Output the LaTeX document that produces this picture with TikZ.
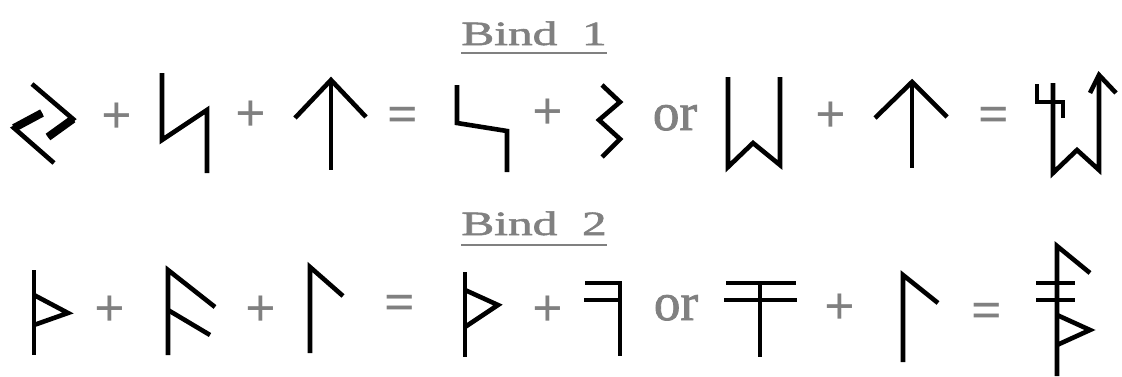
\documentclass[tikz,border=0pt]{standalone}
\usepackage{fontspec}
\setmainfont{Liberation Serif}
\newfontfamily\heavyserif[FakeBold=1.5]{Liberation Serif}
\usetikzlibrary{positioning}
\definecolor{opgray}{RGB}{128,128,128}

\begin{document}
\begin{tikzpicture}[
    x=1pt, y=-1pt,
    rune/.style={line width=4.6pt, line join=miter},
    heavy/.style={line width=8pt},
    op/.style={text=opgray, font=\fontsize{54}{60}\selectfont\bfseries, inner sep=0pt, anchor=base},
    word/.style={text=opgray, font=\fontsize{53}{60}\selectfont\heavyserif, inner sep=0pt, anchor=base},
    title/.style={text=opgray, font=\fontsize{34}{40}\selectfont\heavyserif, inner sep=0pt, anchor=base},
    uline/.style={draw=opgray, line width=2.6pt}
]
\useasboundingbox (0,0) rectangle (1122,376);

% --- Bind 1 ---
\node[title] (bind1) at (534,45) {\scalebox{1.45}[1]{Bind\ \ 1}};
\draw[uline] ([yshift=-8pt]bind1.base west) -- ([yshift=-8pt]bind1.base east);

% jera
\draw[rune] (32,84) -- (73,119) -- (48,137);
\draw[rune, heavy] (73,119) -- (48,137);
\draw[rune] (42,113) -- (14,128) -- (54,163);
\draw[rune, heavy] (42,113) -- (14,128);
\node[op] (plusA) at (117,133) {+};
% sowilo
\draw[rune] (162,73) -- (162,140) -- (207,110) -- (207,173);
\node[op] (plusB) at (251,131) {+};
% tiwaz
\draw[rune] (331,80) -- (331,170);
\draw[rune] (295,118) -- (331,80) -- (366,117);
\node[op] (eqA) at (403,132) {=};

% split parts
\draw[rune] (457,85) -- (457,123) -- (507,131) -- (507,172);
\node[op] (plusC) at (548,129) {+};
\draw[rune] (602,85) -- (620,102) -- (599,120) -- (620,139) -- (602,157);
\node[word] (orA) at (675,130) {or};
\draw[rune] (728,77) -- (728,167) -- (753,143) -- (780,165) -- (780,77);
\node[op] (plusD) at (831,132) {+};
\draw[rune] (912,82) -- (912,168);
\draw[rune] (875,118) -- (912,82) -- (947,117);
\node[op] (eqB) at (994,132) {=};

% bind rune 1
\draw[rune] (1037,84) -- (1037,102) -- (1063,102) -- (1063,118);
\draw[rune] (1053,83) -- (1053,173) -- (1077,150) -- (1099,170) -- (1099,75);
\draw[rune] (1090,93) -- (1099,75) -- (1116,93);

% --- Bind 2 ---
\node[title] (bind2) at (534,235) {\scalebox{1.45}[1]{Bind\ \ 2}};
\draw[uline] ([yshift=-10pt]bind2.base west) -- ([yshift=-10pt]bind2.base east);

% thurisaz
\draw[rune] (34,270) -- (34,355);
\draw[rune] (34,295) -- (68,313) -- (34,325);
\node[op] (plusE) at (110,326) {+};
% ansuz
\draw[rune] (215,307) -- (168,270) -- (168,355);
\draw[rune] (168,310) -- (210,335);
\node[op] (plusF) at (261,326) {+};
% laguz
\draw[rune] (343,296) -- (310,267) -- (310,353);
\node[op] (eqC) at (400,320) {=};

% split parts
\draw[rune] (465,272) -- (465,357);
\draw[rune] (465,290) -- (498,305) -- (465,327);
\node[op] (plusG) at (548,326) {+};
\draw[rune] (585,283) -- (620,283) -- (620,356);
\draw[rune] (584,300) -- (620,300);
\node[word] (orB) at (676,320) {or};
\draw[rune] (726,283) -- (796,283);
\draw[rune] (724,300) -- (797,300);
\draw[rune] (760,283) -- (760,357);
\node[op] (plusH) at (840,324) {+};
\draw[rune] (938,303) -- (903,275) -- (903,362);
\node[op] (eqD) at (987,328) {=};

% bind rune 2
\draw[rune] (1090,273) -- (1057,246) -- (1057,376);
\draw[rune] (1036,283) -- (1075,283);
\draw[rune] (1036,300) -- (1075,300);
\draw[rune] (1057,315) -- (1090,330) -- (1057,345);

\end{tikzpicture}
\end{document}
